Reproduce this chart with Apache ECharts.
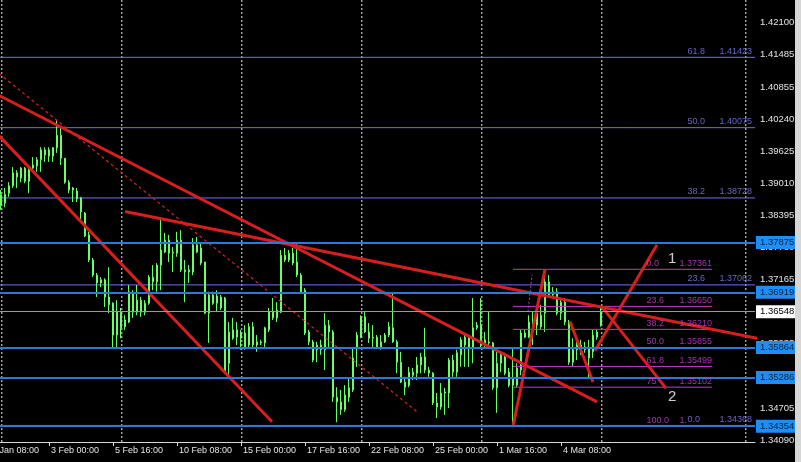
<!DOCTYPE html>
<html><head><meta charset="utf-8">
<script src="https://cdn.jsdelivr.net/npm/echarts@6/dist/echarts.min.js"></script>
<style>html,body{margin:0;padding:0;background:#000;width:801px;height:462px;overflow:hidden;position:relative;}#c{position:absolute;left:-17px;top:0;width:818px;height:462px;}</style>
</head><body><div id="c"></div>
<script>
// ---------- data ----------
const tickLabels = ['31 Jan 08:00','3 Feb 00:00','5 Feb 16:00','10 Feb 08:00','15 Feb 00:00','17 Feb 16:00','22 Feb 08:00','25 Feb 00:00','1 Mar 16:00','4 Mar 08:00'];
const yTicks = [1.42100,1.41485,1.40855,1.40240,1.39625,1.39010,1.38395,1.37780,1.37165,1.35935,1.35320,1.34705,1.34090];
// H4 candles [open, close, low, high], bars 4..154
const candles = [
[1.3859,1.3879,1.3850,1.3888],[1.3863,1.3880,1.3855,1.3892],[1.3882,1.3896,1.3875,1.3903],[1.3896,1.3921,1.3892,1.3932],
[1.3921,1.3913,1.3892,1.3926],[1.3911,1.3930,1.3903,1.3932],[1.3930,1.3905,1.3901,1.3932],[1.3905,1.3932,1.3882,1.3936],
[1.3930,1.3936,1.3923,1.3951],[1.3934,1.3946,1.3923,1.3951],[1.3946,1.3965,1.3923,1.3970],[1.3965,1.3955,1.3942,1.3970],
[1.3953,1.3965,1.3942,1.3970],[1.3953,1.3969,1.3942,1.3970],[1.3969,1.3993,1.3959,1.4022],[1.3993,1.3949,1.3936,1.4009],
[1.3949,1.3903,1.3900,1.3949],[1.3903,1.3888,1.3882,1.3907],[1.3888,1.3892,1.3865,1.3894],[1.3886,1.3871,1.3865,1.3892],
[1.3873,1.3846,1.3825,1.3875],[1.3844,1.3800,1.3798,1.3846],[1.3802,1.3754,1.3750,1.3808],[1.3754,1.3725,1.3721,1.3758],
[1.3725,1.3710,1.3683,1.3729],[1.3710,1.3716,1.3702,1.3721],[1.3716,1.3683,1.3664,1.3719],[1.3683,1.3668,1.3652,1.3740],
[1.3671,1.3610,1.3587,1.3673],[1.3610,1.3654,1.3587,1.3677],[1.3654,1.3624,1.3604,1.3662],[1.3626,1.3639,1.3620,1.3648],
[1.3635,1.3693,1.3633,1.3706],[1.3691,1.3654,1.3643,1.3696],[1.3654,1.3677,1.3648,1.3706],[1.3677,1.3654,1.3645,1.3683],
[1.3654,1.3671,1.3648,1.3677],[1.3671,1.3721,1.3668,1.3725],[1.3721,1.3712,1.3696,1.3744],[1.3712,1.3744,1.3693,1.3748],
[1.3744,1.3773,1.3696,1.3836],[1.3769,1.3792,1.3767,1.3806],[1.3792,1.3767,1.3750,1.3802],[1.3767,1.3769,1.3731,1.3779],
[1.3767,1.3792,1.3760,1.3808],[1.3792,1.3735,1.3731,1.3811],[1.3735,1.3731,1.3673,1.3754],[1.3731,1.3735,1.3710,1.3744],
[1.3731,1.3783,1.3725,1.3796],[1.3783,1.3769,1.3767,1.3798],[1.3777,1.3748,1.3744,1.3788],[1.3750,1.3652,1.3650,1.3750],
[1.3652,1.3687,1.3595,1.3693],[1.3687,1.3671,1.3668,1.3693],[1.3671,1.3685,1.3654,1.3696],[1.3683,1.3662,1.3658,1.3687],
[1.3681,1.3539,1.3537,1.3683],[1.3556,1.3616,1.3530,1.3635],[1.3604,1.3620,1.3601,1.3643],[1.3620,1.3606,1.3591,1.3635],
[1.3604,1.3614,1.3582,1.3620],[1.3614,1.3587,1.3582,1.3629],[1.3591,1.3626,1.3587,1.3633],[1.3626,1.3591,1.3587,1.3635],
[1.3591,1.3597,1.3578,1.3610],[1.3597,1.3595,1.3591,1.3601],[1.3595,1.3624,1.3587,1.3626],[1.3620,1.3654,1.3616,1.3662],
[1.3654,1.3643,1.3639,1.3681],[1.3643,1.3658,1.3635,1.3673],[1.3654,1.3763,1.3652,1.3773],[1.3763,1.3754,1.3750,1.3777],
[1.3754,1.3767,1.3750,1.3773],[1.3767,1.3748,1.3744,1.3777],[1.3750,1.3725,1.3721,1.3786],[1.3725,1.3693,1.3691,1.3729],
[1.3696,1.3614,1.3610,1.3700],[1.3616,1.3597,1.3591,1.3620],[1.3597,1.3562,1.3558,1.3601],[1.3582,1.3591,1.3558,1.3597],
[1.3591,1.3582,1.3572,1.3601],[1.3582,1.3629,1.3543,1.3652],[1.3629,1.3616,1.3585,1.3639],[1.3616,1.3491,1.3482,1.3620],
[1.3491,1.3482,1.3443,1.3510],[1.3482,1.3467,1.3457,1.3505],[1.3467,1.3495,1.3463,1.3514],[1.3491,1.3509,1.3482,1.3528],
[1.3505,1.3566,1.3501,1.3587],[1.3585,1.3610,1.3549,1.3616],[1.3606,1.3645,1.3604,1.3648],[1.3645,1.3616,1.3614,1.3654],
[1.3616,1.3604,1.3595,1.3633],[1.3604,1.3606,1.3585,1.3629],[1.3606,1.3587,1.3585,1.3610],[1.3587,1.3597,1.3582,1.3610],
[1.3597,1.3610,1.3595,1.3614],[1.3610,1.3626,1.3606,1.3635],[1.3624,1.3597,1.3595,1.3691],[1.3597,1.3558,1.3537,1.3601],
[1.3558,1.3520,1.3518,1.3578],[1.3520,1.3510,1.3495,1.3530],[1.3514,1.3539,1.3510,1.3549],[1.3539,1.3533,1.3524,1.3547],
[1.3537,1.3553,1.3524,1.3568],[1.3553,1.3568,1.3537,1.3576],[1.3568,1.3543,1.3537,1.3624],[1.3543,1.3537,1.3530,1.3549],
[1.3537,1.3480,1.3476,1.3539],[1.3480,1.3472,1.3451,1.3499],[1.3472,1.3499,1.3467,1.3518],[1.3499,1.3501,1.3457,1.3509],
[1.3499,1.3562,1.3470,1.3566],[1.3562,1.3539,1.3530,1.3572],[1.3539,1.3576,1.3530,1.3582],[1.3572,1.3601,1.3549,1.3606],
[1.3591,1.3606,1.3549,1.3614],[1.3606,1.3585,1.3549,1.3610],[1.3585,1.3624,1.3556,1.3681],[1.3624,1.3629,1.3620,1.3635],
[1.3629,1.3601,1.3587,1.3681],[1.3601,1.3591,1.3587,1.3616],[1.3595,1.3597,1.3585,1.3654],[1.3595,1.3509,1.3505,1.3597],
[1.3509,1.3556,1.3461,1.3582],[1.3556,1.3572,1.3539,1.3578],[1.3568,1.3537,1.3533,1.3576],[1.3539,1.3514,1.3510,1.3547],
[1.3514,1.3528,1.3435,1.3585],[1.3514,1.3547,1.3510,1.3556],[1.3543,1.3614,1.3533,1.3620],[1.3614,1.3606,1.3604,1.3620],
[1.3606,1.3635,1.3604,1.3648],[1.3635,1.3626,1.3591,1.3654],[1.3629,1.3652,1.3610,1.3658],[1.3626,1.3648,1.3620,1.3668],
[1.3652,1.3712,1.3616,1.3736],[1.3712,1.3687,1.3683,1.3725],[1.3687,1.3693,1.3681,1.3702],[1.3693,1.3652,1.3648,1.3700],
[1.3652,1.3673,1.3639,1.3681],[1.3673,1.3635,1.3629,1.3681],[1.3635,1.3558,1.3553,1.3639],[1.3558,1.3582,1.3549,1.3604],
[1.3582,1.3595,1.3562,1.3606],[1.3591,1.3578,1.3572,1.3601],[1.3582,1.3587,1.3576,1.3597],[1.3585,1.3566,1.3528,1.3601],
[1.3578,1.3610,1.3566,1.3620],[1.3606,1.3616,1.3601,1.3620],[1.3629,1.3655,1.3626,1.3664]
];
const blueLevels = [1.37875,1.36919,1.35864,1.35286,1.34354];
const bidPrice = 1.36548;
const bigFibNames = ['61.8','50.0','38.2','23.6','0.0'];
const bigFibPrices = [1.41423,1.40075,1.38728,1.37062,1.34368];
const smallFibNames = ['0.0','23.6','38.2','50.0','61.8','75','100.0'];
const smallFibPrices = [1.37361,1.36650,1.36210,1.35855,1.35499,1.35102,1.34348];
const smallFibTexts = ['1.37361','1.36650','1.36210','1.35855','1.35499','1.35102','1.'];
// trend lines: [bar index, price] end points
const redLines = [
  [[0,1.4083],[153,1.3482]],
  [[0,1.4020],[71.75,1.3444]],
  [[35,1.3847],[193,1.3604]],
  [[132,1.3435],[140,1.3736]],
  [[152.5,1.3580],[168,1.3783]],
  [[154.25,1.3664],[170.25,1.3508]],
  [[146.25,1.3636],[152,1.3520]]
];
const dottedRed = [[0,1.4133],[108,1.3463]];
const dottedFib = [[135.75,1.3655],[136.75,1.3725]];
const weekSeparators = [4.2,34.2,64.2,94.2,124.2,154.2,190.2];
const waveLabels = [['1',171.9,1.3756],['2',171.9,1.3490]];

// ---------- chart ----------
const FONT = 'Liberation Sans';
const BAR_COUNT = 193, FIRST_BAR = 4, PER_TICK = 16;
const yMin = 1.34051, yMax = 1.42522;
const isTick = i => i % PER_TICK === 0 && i / PER_TICK < tickLabels.length;
const categories = Array.from({length: BAR_COUNT}, (_, i) => isTick(i) ? tickLabels[i / PER_TICK] : '');
const candleData = [];
for (let i = 0; i < FIRST_BAR; i++) candleData.push(['-','-','-','-']);
candles.forEach(c => candleData.push(c));

const series = [];
weekSeparators.forEach(t => series.push({
  type:'line', xAxisIndex:1, data:[[t,yMin],[t,yMax]], symbol:'none', silent:true, z:1,
  lineStyle:{color:'#ececec', width:1, type:[2,2]}
}));

const tag = (bg, fg) => ({show:true, position:'end', distance:1, formatter:p => Number(p.value).toFixed(5),
  backgroundColor:bg, color:fg, padding:[2,3,1,4], fontSize:9.5, fontFamily:FONT});
const mlData = [];
mlData.push({yAxis:bidPrice, lineStyle:{color:'#9a9a9a', width:1, type:'solid'}, label:tag('#ffffff','#000000')});
blueLevels.forEach(p => mlData.push({yAxis:p, lineStyle:{color:'#2a78d8', width:2, type:'solid'}, label:tag('#1e8ef5','#0c2340')}));

// big fibo levels across the whole chart
bigFibPrices.forEach(p => series.push({
  type:'line', xAxisIndex:1, data:[[-0.5,p],[BAR_COUNT-0.5,p]], symbol:'none', silent:true, z:2,
  lineStyle:{color:'#6f6ff0', width:1}
}));

series.push({
  type:'candlestick', xAxisIndex:0, yAxisIndex:0, data:candleData, barWidth:2, z:2,
  itemStyle:{color:'#33c833', color0:'#33c833', borderColor:'#66ff66', borderColor0:'#66ff66', borderWidth:1},
  markLine:{silent:true, precision:5, symbol:['none','none'], animation:false, data:mlData}
});

smallFibPrices.forEach(p => series.push({
  type:'line', xAxisIndex:1, data:[[132,p],[181.75,p]], symbol:'none', silent:true, z:3,
  lineStyle:{color:'#c23cc8', width:1}
}));

redLines.forEach(l => series.push({
  type:'line', xAxisIndex:1, data:l, symbol:'none', silent:true, z:4,
  lineStyle:{color:'#d81e1e', width:3}
}));
series.push({type:'line', xAxisIndex:1, data:dottedRed, symbol:'none', silent:true, z:4,
  lineStyle:{color:'#d42424', width:1.2, type:[3,3]}});
series.push({type:'line', xAxisIndex:1, data:dottedFib, symbol:'none', silent:true, z:4,
  lineStyle:{color:'#c23cc8', width:1, type:[2,2]}});

const textSeries = (items, color, size, align, vAlign, off) => ({
  type:'scatter', xAxisIndex:1, symbolSize:1, silent:true, z:6,
  itemStyle:{color:'rgba(0,0,0,0)'},
  data: items.map(d => ({value:[d[1], d[2]], label:{formatter:d[0]}})),
  label:{show:true, position:off, align:align, verticalAlign:vAlign, color:color, fontSize:size, fontFamily:FONT}
});
series.push(textSeries(bigFibNames.map((n,i)=>[n,175.75,bigFibPrices[i]]), '#8080f0', 9, 'left', 'bottom', [0,-1]));
series.push(textSeries(bigFibPrices.map(p=>[p.toFixed(5),183.75,p]), '#8080f0', 9, 'left', 'bottom', [0,-1]));
series.push(textSeries(smallFibNames.map((n,i)=>[n,165.5,smallFibPrices[i]]), '#c844d0', 9, 'left', 'bottom', [0,-1]));
series.push(textSeries(smallFibTexts.map((n,i)=>[n,173.75,smallFibPrices[i]]), '#c844d0', 9, 'left', 'bottom', [0,-1]));
series.push(textSeries(waveLabels, '#ffffff', 15, 'center', 'middle', [0,0]));

const option = {
  animation:false,
  backgroundColor:'#000000',
  grid:{left:0, right:46, top:0, bottom:20, containLabel:false},
  xAxis:[{
    type:'category', data:categories, boundaryGap:true, position:'bottom',
    axisLine:{show:true, lineStyle:{color:'#d8d8d8', width:1}},
    axisTick:{show:true, alignWithLabel:true, interval:(i)=>isTick(i), length:4, lineStyle:{color:'#d8d8d8'}},
    axisLabel:{show:true, interval:(i)=>isTick(i), align:'left', padding:[0,0,0,2], margin:4, color:'#e4e4e4', fontSize:9, fontFamily:FONT},
    splitLine:{show:false}
  },{
    type:'value', min:-0.5, max:BAR_COUNT-0.5, show:false
  }],
  yAxis:[{
    type:'value', min:yMin, max:yMax, position:'right',
    axisLine:{show:true, lineStyle:{color:'#d8d8d8'}},
    axisTick:{show:true, customValues:yTicks, length:3, lineStyle:{color:'#d8d8d8'}},
    axisLabel:{customValues:yTicks, formatter:(v)=>v.toFixed(5), color:'#e4e4e4', fontSize:9.5, margin:5, fontFamily:FONT},
    splitLine:{show:false}
  }],
  graphic:[{type:'rect', shape:{x:812, y:0, width:6, height:462}, style:{fill:'#d6d6d6'}, z:100}],
  series:series
};
const chart = echarts.init(document.getElementById('c'));
chart.setOption(option);
</script></body></html>
